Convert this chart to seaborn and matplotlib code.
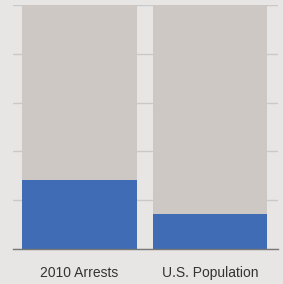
import matplotlib
matplotlib.use("Agg")
import matplotlib.pyplot as plt
import seaborn as sns

# Data (percent)
categories = ["2010 Arrests", "U.S. Population"]
totals = [100, 100]
shares = [28.3, 14.2]

sns.set_style("white")
plt.rcParams["font.family"] = ["Liberation Sans", "DejaVu Sans"]

bg = "#e8e6e5"
fig = plt.figure(figsize=(2.83, 2.84), dpi=100, facecolor=bg)
ax = fig.add_axes([0.046, 0.123, 0.936, 0.859], facecolor=bg)

sns.barplot(x=categories, y=totals, color="#cdc8c4", width=0.875,
            saturation=1, linewidth=0, ax=ax, zorder=2)
sns.barplot(x=categories, y=shares, color="#3f6cb5", width=0.875,
            saturation=1, linewidth=0, ax=ax, zorder=3)

ax.set_ylim(0, 100)
ax.set_xlim(-0.51, 1.52)
ax.set_yticks(range(0, 101, 20))
ax.yaxis.grid(True, color="#c9c9c9", linewidth=1, zorder=1)
ax.set_axisbelow(True)
ax.tick_params(axis="y", left=False, labelleft=False)
ax.tick_params(axis="x", bottom=False, labelsize=10, colors="#333333", pad=9)
for s in ["top", "left", "right"]:
    ax.spines[s].set_visible(False)
ax.spines["bottom"].set_color("#777777")
ax.spines["bottom"].set_linewidth(1)
ax.spines["bottom"].set_zorder(4)

fig.savefig("out.png", dpi=100, facecolor=bg)
